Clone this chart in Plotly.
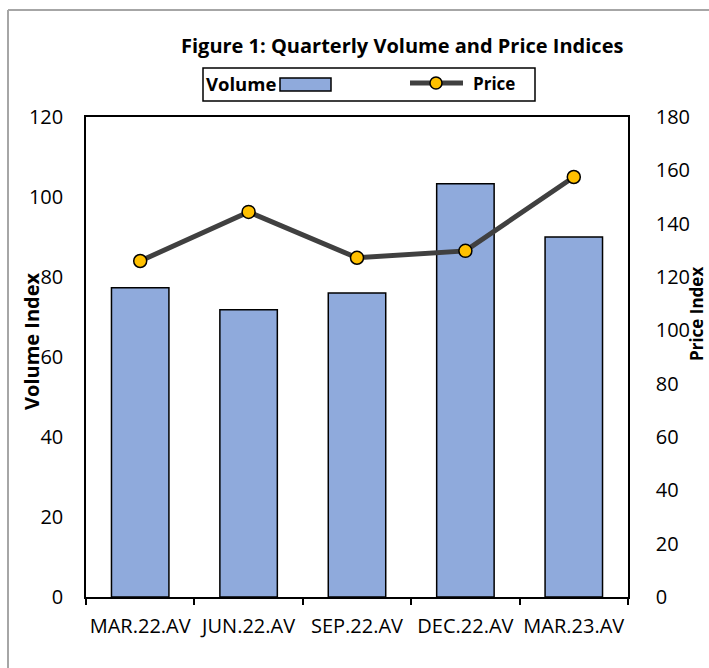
import plotly.graph_objects as go

categories = ["MAR.22.AV", "JUN.22.AV", "SEP.22.AV", "DEC.22.AV", "MAR.23.AV"]
volume = [77.3, 71.8, 76.0, 103.3, 90.0]
price = [126.0, 144.4, 127.2, 129.8, 157.5]

FONT = "'Open Sans', sans-serif"
W, H = 709, 668
L, R, T, B = 86, 628, 117, 597


def px(x):
    return (x - L) / (R - L)


def py(y):
    return (B - y) / (B - T)


fig = go.Figure()
fig.add_trace(go.Bar(
    x=categories, y=volume, name="Volume", width=0.53,
    marker=dict(color="#8faadc", line=dict(color="#000000", width=1.5)),
    yaxis="y", showlegend=False,
))
fig.add_trace(go.Scatter(
    x=categories, y=price, name="Price", mode="lines+markers",
    line=dict(color="#404040", width=5),
    marker=dict(color="#ffc000", size=13, line=dict(color="#000000", width=1.5)),
    yaxis="y2", showlegend=False,
))

shapes = [
    # outer light border
    dict(type="line", xref="paper", yref="paper", x0=px(8), x1=px(709), y0=py(10), y1=py(10),
         line=dict(color="#a6a6a6", width=2)),
    dict(type="line", xref="paper", yref="paper", x0=px(8), x1=px(8), y0=py(10), y1=py(668),
         line=dict(color="#a6a6a6", width=2)),
    # legend box
    dict(type="rect", xref="paper", yref="paper", x0=px(203), x1=px(535), y0=py(101), y1=py(68),
         line=dict(color="#000000", width=1.5), fillcolor="rgba(0,0,0,0)"),
    dict(type="rect", xref="paper", yref="paper", x0=px(280), x1=px(331), y0=py(91), y1=py(78),
         line=dict(color="#000000", width=1.5), fillcolor="#8faadc"),
    dict(type="line", xref="paper", yref="paper", x0=px(410), x1=px(463), y0=py(83), y1=py(83),
         line=dict(color="#404040", width=5)),
    dict(type="circle", xref="paper", yref="paper", x0=px(430), x1=px(442), y0=py(89), y1=py(77),
         line=dict(color="#000000", width=1.5), fillcolor="#ffc000"),
]

annotations = [
    dict(text="<b>Figure 1: Quarterly Volume and Price Indices</b>", xref="paper", yref="paper",
         x=px(402), y=py(46), showarrow=False, font=dict(size=20, color="#000000", family=FONT),
         xanchor="center", yanchor="middle"),
    dict(text="<b>Volume</b>", xref="paper", yref="paper", x=px(204), y=py(83), showarrow=False,
         font=dict(size=18.5, color="#000000", family=FONT), xanchor="left", yanchor="middle"),
    dict(text="<b>Price</b>", xref="paper", yref="paper", x=px(471), y=py(83), showarrow=False,
         font=dict(size=17, color="#000000", family=FONT), xanchor="left", yanchor="middle"),
    dict(text="<b>Volume Index</b>", xref="paper", yref="paper", x=px(31), y=py(341), showarrow=False,
         textangle=-90, font=dict(size=20, color="#000000", family=FONT), xanchor="center", yanchor="middle"),
    dict(text="<b>Price Index</b>", xref="paper", yref="paper", x=px(696), y=py(314), showarrow=False,
         textangle=-90, font=dict(size=17, color="#000000", family=FONT), xanchor="center", yanchor="middle"),
]

fig.update_layout(
    width=W, height=H,
    margin=dict(l=L, r=W - R, t=T, b=H - B, autoexpand=False),
    paper_bgcolor="white", plot_bgcolor="white",
    font=dict(family=FONT, size=19, color="#000000"),
    shapes=shapes, annotations=annotations,
    xaxis=dict(
        showline=True, linecolor="#000000", linewidth=1.5, mirror=True,
        ticks="outside", tickson="boundaries", ticklen=6, tickcolor="#000000", tickwidth=1.5,
        ticklabelstandoff=10, tickangle=0, automargin=False,
        tickfont=dict(size=20, family=FONT, color="#000000"), showgrid=False,
    ),
    yaxis=dict(
        range=[0, 120], dtick=20, showgrid=False, zeroline=False, automargin=False,
        showline=True, linecolor="#000000", linewidth=1.5,
        ticks="", ticklabelstandoff=17,
        tickfont=dict(size=20, family=FONT, color="#000000"),
    ),
    yaxis2=dict(
        range=[0, 180], dtick=20, overlaying="y", side="right", showgrid=False, zeroline=False,
        showline=True, linecolor="#000000", linewidth=1.5, automargin=False,
        ticks="", ticklabelstandoff=22,
        tickfont=dict(size=20, family=FONT, color="#000000"),
    ),
)

fig.write_html("out.html", config={"displayModeBar": False},
               post_script="document.body.style.margin='0';")
